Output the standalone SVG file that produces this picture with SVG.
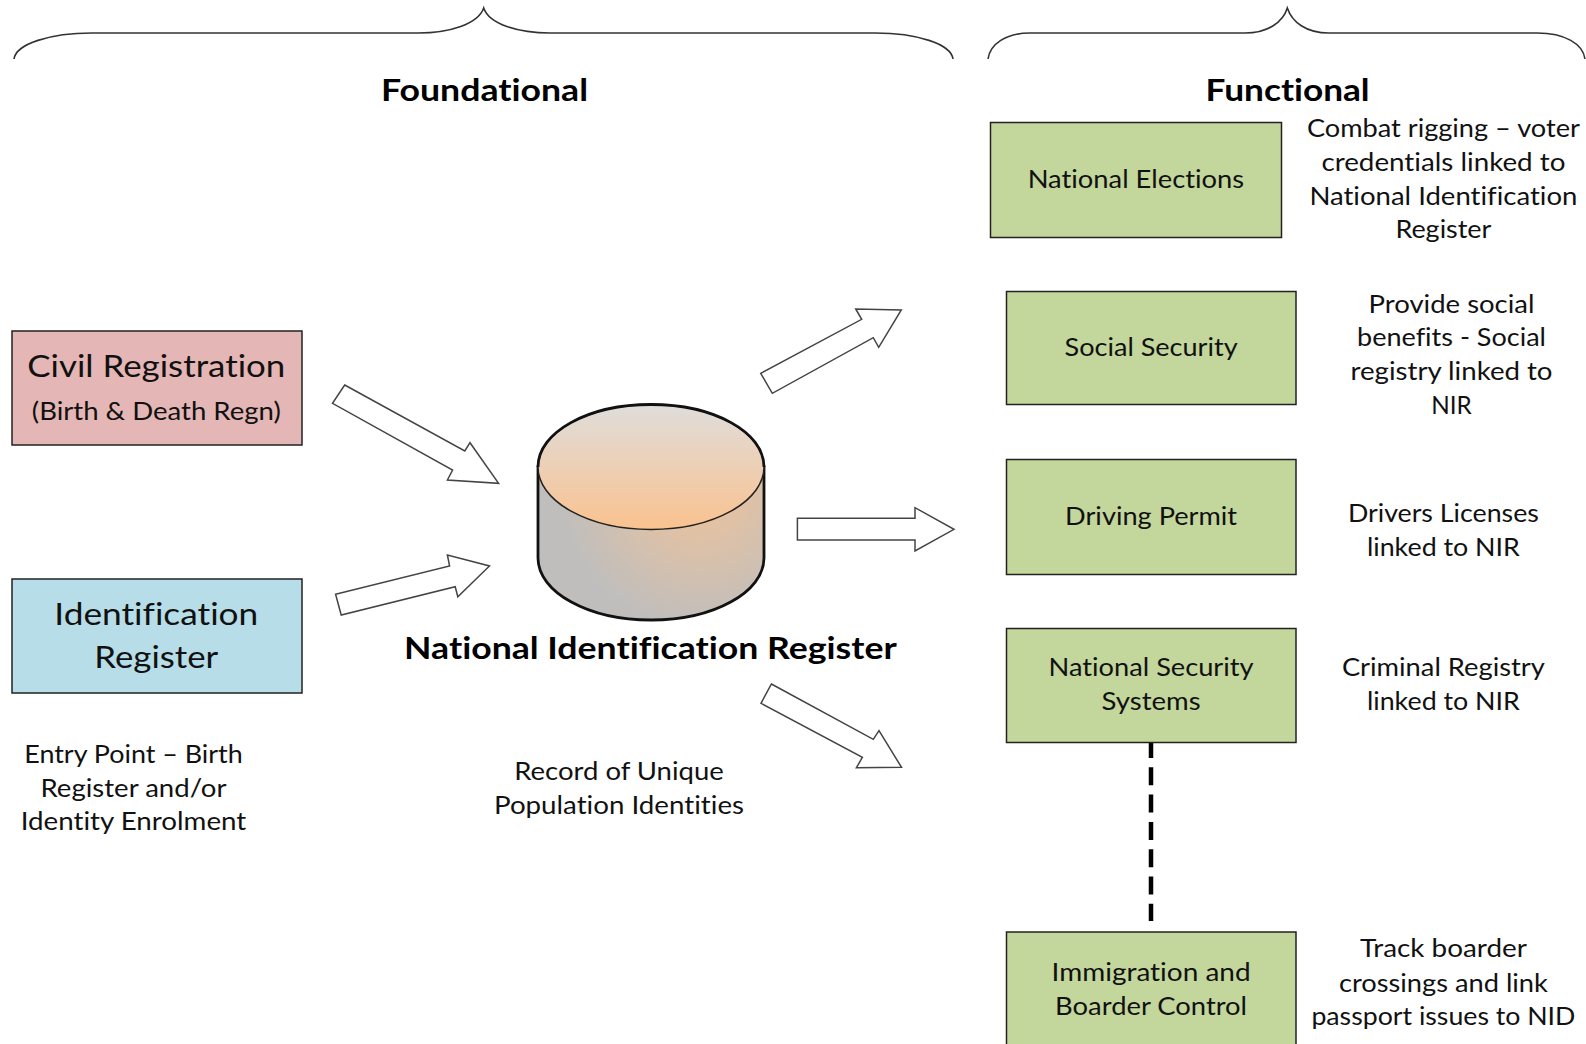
<svg xmlns="http://www.w3.org/2000/svg" width="1586" height="1044" viewBox="0 0 1586 1044">
<style>
text{font-family:"Lato","Open Sans","Liberation Sans",sans-serif;fill:#111;text-anchor:middle;font-size:25.5px;font-variant-ligatures:none}
.big{font-size:30px}
.h{font-weight:700;font-size:30px;fill:#000}
.box{stroke:#222;stroke-width:1.5}
.green{fill:#C3D69B}
.arrow{fill:#fff;stroke:#444;stroke-width:1.5;stroke-linejoin:miter}
.brace{fill:none;stroke:#333;stroke-width:1.6}
</style>
<defs>
<linearGradient id="top" x1="0" y1="0" x2="0" y2="1"><stop offset="0" stop-color="#DFDDDB"/><stop offset="1" stop-color="#FAC28F"/></linearGradient>
<radialGradient id="side" gradientUnits="userSpaceOnUse" cx="700" cy="490" r="140"><stop offset="0" stop-color="#EFC39B"/><stop offset="1" stop-color="#BFBEBD"/></radialGradient>
</defs>
<rect width="1586" height="1044" fill="#fff"/>
<g id="braces">
<path class="brace" d="M14 59C16 44 50 33 92 33H418C450 33 478 24 483.7 8C489 24 518 33 550 33H875C917 33 951 44 953 59"/>
<path class="brace" d="M988 59C990 44 1006 33 1030 33H1245C1268 33 1283 22 1287.3 8C1292 22 1306 33 1329 33H1537C1565 33 1583 44 1585 59"/>
<text class="h" x="484.5" y="100.5" textLength="207" lengthAdjust="spacingAndGlyphs">Foundational</text>
<text class="h" x="1287.6" y="100.5" textLength="164" lengthAdjust="spacingAndGlyphs">Functional</text>
</g>
<g id="connectors">
<polygon class="arrow" points="344.7,385 464.8,451 470,442.7 498.6,483.3 447.4,480 452.6,470 332.5,403.3"/>
<polygon class="arrow" points="335.6,594.3 449.6,566 447.4,555 489.5,566 457.8,596.7 455.2,586.7 341.2,615"/>
<polygon class="arrow" points="797.4,518.3 915,518.3 915,507.7 954,529.3 915,551 915,540 797.4,540"/>
<polygon class="arrow" points="771.4,684 873.3,739.3 879,730.7 901.5,767.3 856.4,767.7 862.4,757.3 761,703.3"/>
<polygon class="arrow" points="760.7,373.3 861.7,319.3 855.7,309 901.3,310 878.7,347.3 873.3,337.7 772.3,393.3"/>
<line x1="1151" y1="740" x2="1151" y2="921" stroke="#000" stroke-width="4.5" stroke-dasharray="18 9.3"/>
</g>
<g id="civil-registration">
<rect class="box" x="12" y="331" width="290" height="114" fill="#E4B6B5"/>
<text class="big" x="156.3" y="377" textLength="258" lengthAdjust="spacingAndGlyphs">Civil Registration</text>
<text x="156.3" y="419.8" textLength="249" lengthAdjust="spacingAndGlyphs">(Birth &amp; Death Regn)</text>
</g>
<g id="identification-register">
<rect class="box" x="12" y="579" width="290" height="114" fill="#B7DEE8"/>
<text class="big" x="156.3" y="625" textLength="204" lengthAdjust="spacingAndGlyphs">Identification</text>
<text class="big" x="156.3" y="668.3" textLength="124" lengthAdjust="spacingAndGlyphs">Register</text>
</g>
<g id="entry-note">
<text x="133.5" y="762.7" textLength="218.5" lengthAdjust="spacingAndGlyphs">Entry Point – Birth</text>
<text x="133.5" y="796.5" textLength="186" lengthAdjust="spacingAndGlyphs">Register and/or</text>
<text x="133.5" y="830.4" textLength="225.5" lengthAdjust="spacingAndGlyphs">Identity Enrolment</text>
</g>
<g id="national-identification-register">
<path d="M538 467V558C538 592 588 620 651 620S764 592 764 558V467Z" fill="url(#side)" stroke="#111" stroke-width="2.8"/>
<ellipse cx="651" cy="467" rx="113" ry="62.5" fill="url(#top)" stroke="#222" stroke-width="1.5"/>
<path d="M538 467C538 432 588 404.5 651 404.5S764 432 764 467" fill="none" stroke="#111" stroke-width="2.8"/>
<text class="h" x="650.4" y="659" textLength="492.6" lengthAdjust="spacingAndGlyphs">National Identification Register</text>
<text x="619" y="779.8" textLength="209.4" lengthAdjust="spacingAndGlyphs">Record of Unique</text>
<text x="619" y="813.5" textLength="250" lengthAdjust="spacingAndGlyphs">Population Identities</text>
</g>
<g id="national-elections">
<rect class="box green" x="990.5" y="122.5" width="291" height="115"/>
<text x="1135.9" y="188.1" textLength="216.5" lengthAdjust="spacingAndGlyphs">National Elections</text>
<text x="1443.4" y="136.5" textLength="273" lengthAdjust="spacingAndGlyphs">Combat rigging – voter</text>
<text x="1443.4" y="171" textLength="244" lengthAdjust="spacingAndGlyphs">credentials linked to</text>
<text x="1443.4" y="204.6" textLength="268" lengthAdjust="spacingAndGlyphs">National Identification</text>
<text x="1443.4" y="238" textLength="96" lengthAdjust="spacingAndGlyphs">Register</text>
</g>
<g id="social-security">
<rect class="box green" x="1006.5" y="291.5" width="289.5" height="113"/>
<text x="1151.1" y="356" textLength="173" lengthAdjust="spacingAndGlyphs">Social Security</text>
<text x="1451.5" y="312.5" textLength="166" lengthAdjust="spacingAndGlyphs">Provide social</text>
<text x="1451.5" y="346.4" textLength="189" lengthAdjust="spacingAndGlyphs">benefits - Social</text>
<text x="1451.5" y="380.3" textLength="202" lengthAdjust="spacingAndGlyphs">registry linked to</text>
<text x="1451.5" y="413.7" textLength="40.5" lengthAdjust="spacingAndGlyphs">NIR</text>
</g>
<g id="driving-permit">
<rect class="box green" x="1006.5" y="459.5" width="289.5" height="115"/>
<text x="1151.1" y="525" textLength="172" lengthAdjust="spacingAndGlyphs">Driving Permit</text>
<text x="1443.4" y="522.2" textLength="191" lengthAdjust="spacingAndGlyphs">Drivers Licenses</text>
<text x="1443.4" y="555.8" textLength="153" lengthAdjust="spacingAndGlyphs">linked to NIR</text>
</g>
<g id="national-security-systems">
<rect class="box green" x="1006.5" y="628.5" width="289.5" height="114"/>
<text x="1151.1" y="676" textLength="205" lengthAdjust="spacingAndGlyphs">National Security</text>
<text x="1151.1" y="710.1" textLength="99" lengthAdjust="spacingAndGlyphs">Systems</text>
<text x="1443.4" y="676" textLength="203" lengthAdjust="spacingAndGlyphs">Criminal Registry</text>
<text x="1443.4" y="710.1" textLength="153" lengthAdjust="spacingAndGlyphs">linked to NIR</text>
</g>
<g id="immigration-boarder-control">
<rect class="box green" x="1006.5" y="932" width="289.5" height="130"/>
<text x="1151.1" y="981.1" textLength="199" lengthAdjust="spacingAndGlyphs">Immigration and</text>
<text x="1151.1" y="1014.5" textLength="192" lengthAdjust="spacingAndGlyphs">Boarder Control</text>
<text x="1443.4" y="957.3" textLength="167" lengthAdjust="spacingAndGlyphs">Track boarder</text>
<text x="1443.4" y="991.5" textLength="209" lengthAdjust="spacingAndGlyphs">crossings and link</text>
<text x="1443.4" y="1025" textLength="264" lengthAdjust="spacingAndGlyphs">passport issues to NID</text>
</g>
</svg>
